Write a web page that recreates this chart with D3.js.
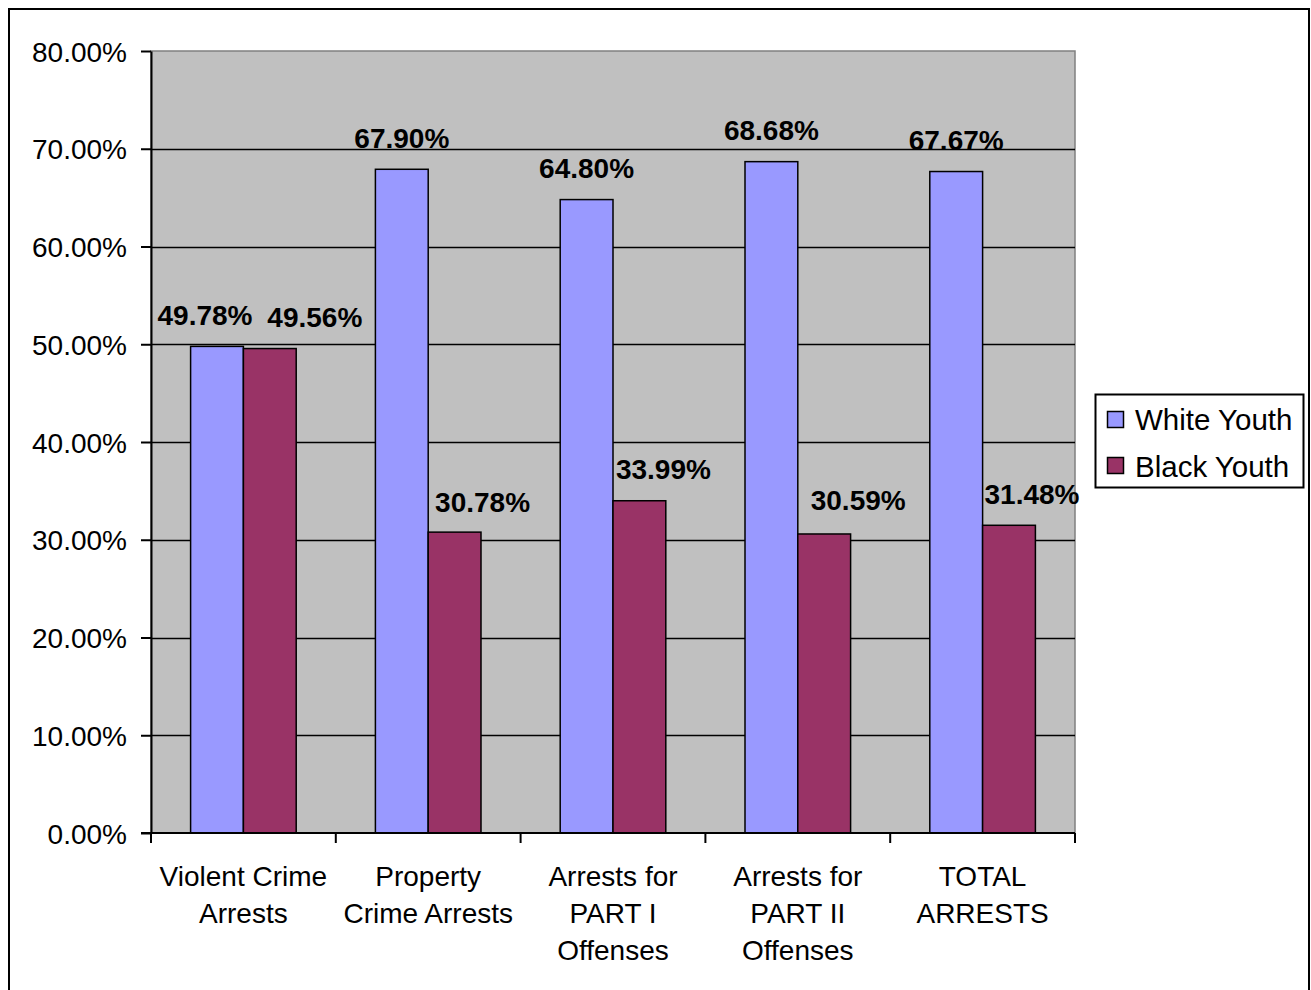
<!DOCTYPE html>
<html>
<head>
<meta charset="utf-8">
<script src="https://cdn.jsdelivr.net/npm/d3@7"></script>
<style>
  html, body { margin: 0; padding: 0; background: #fff; }
  svg { display: block; font-family: "Liberation Sans", Arial, sans-serif; }
</style>
</head>
<body>
<svg id="chart" width="1311" height="990"></svg>
<script>
// Arrest shares by race, youth arrests
const categories = [
  "Violent Crime\nArrests",
  "Property\nCrime Arrests",
  "Arrests for\nPART I\nOffenses",
  "Arrests for\nPART II\nOffenses",
  "TOTAL\nARRESTS"
];
const seriesNames = ["White Youth", "Black Youth"];
const whiteYouth = [49.78, 67.90, 64.80, 68.68, 67.67];
const blackYouth = [49.56, 30.78, 33.99, 30.59, 31.48];
const yTicks = [0, 10, 20, 30, 40, 50, 60, 70, 80];

// layout
const plot = { left: 151, top: 51, right: 1075, bottom: 833 };
const colors = ["#9999FF", "#993366"];
const fontSize = 28;
const labelFontSize = 28;
const legendFontSize = 29.5;
// hand-placed value label nudges (px) so neighbouring labels do not collide
const labelNudge = [
  [[-12, 0], [45, 0]],
  [[0, 0], [28, 1]],
  [[0, 0], [24, 0]],
  [[0, 0], [34, -2]],
  [[0, 0], [23, 0]]
];

const svg = d3.select("#chart");

// outer chart frame
svg.append("rect")
  .attr("x", 9).attr("y", 9)
  .attr("width", 1300).attr("height", 1000)
  .attr("fill", "#fff").attr("stroke", "#000").attr("stroke-width", 2);

const x = d3.scaleBand().domain(categories).range([plot.left, plot.right]).paddingInner(0).paddingOuter(0);
const xs = d3.scaleBand().domain(seriesNames).range([0, x.bandwidth()]).paddingInner(0).paddingOuter(0.75);
const y = d3.scaleLinear().domain([0, 80]).range([plot.bottom, plot.top]);

// plot area background
svg.append("rect")
  .attr("x", plot.left).attr("y", plot.top)
  .attr("width", plot.right - plot.left).attr("height", plot.bottom - plot.top)
  .attr("fill", "#C0C0C0").attr("stroke", "#808080").attr("stroke-width", 1.5);

// gridlines
svg.append("g").selectAll("line")
  .data(yTicks.filter(t => t > 0 && t < 80))
  .join("line")
  .attr("x1", plot.left).attr("x2", plot.right)
  .attr("y1", d => Math.round(y(d)) + 0.5).attr("y2", d => Math.round(y(d)) + 0.5)
  .attr("stroke", "#000").attr("stroke-width", 1.5);

// bars
const seriesData = [whiteYouth, blackYouth];
seriesData.forEach((vals, si) => {
  svg.append("g").selectAll("rect")
    .data(vals)
    .join("rect")
    .attr("x", (d, i) => x(categories[i]) + xs(seriesNames[si]))
    .attr("y", d => y(d))
    .attr("width", xs.bandwidth())
    .attr("height", d => y(0) - y(d))
    .attr("fill", colors[si])
    .attr("stroke", "#000").attr("stroke-width", 1.5);
});

// value labels
seriesData.forEach((vals, si) => {
  svg.append("g").selectAll("text")
    .data(vals)
    .join("text")
    .attr("x", (d, i) => x(categories[i]) + xs(seriesNames[si]) + xs.bandwidth() / 2 + labelNudge[i][si][0])
    .attr("y", (d, i) => y(d) - 21.5 + labelNudge[i][si][1])
    .attr("text-anchor", "middle")
    .attr("font-size", labelFontSize)
    .attr("font-weight", "bold")
    .attr("fill", "#000")
    .text(d => d.toFixed(2) + "%");
});

// y axis
const yAxis = svg.append("g")
  .attr("transform", `translate(${plot.left},0)`)
  .call(d3.axisLeft(y).tickValues(yTicks).tickFormat(d => d.toFixed(2) + "%")
    .tickSize(10).tickSizeOuter(0).tickPadding(14));
yAxis.select(".domain").attr("stroke", "#000").attr("stroke-width", 2);
yAxis.selectAll(".tick line").attr("stroke", "#000").attr("stroke-width", 2);
yAxis.selectAll(".tick text")
  .attr("font-size", fontSize).attr("font-family", "Liberation Sans, Arial, sans-serif")
  .attr("fill", "#000").attr("dy", "0.36em");

// x axis line and boundary ticks
const xg = svg.append("g");
xg.append("line")
  .attr("x1", plot.left - 10).attr("x2", plot.right)
  .attr("y1", plot.bottom).attr("y2", plot.bottom)
  .attr("stroke", "#000").attr("stroke-width", 2);
const edges = categories.map(c => x(c)).concat([x.range()[1]]);
xg.selectAll("line.tk")
  .data(edges)
  .join("line")
  .attr("class", "tk")
  .attr("x1", d => d).attr("x2", d => d)
  .attr("y1", plot.bottom).attr("y2", plot.bottom + 10)
  .attr("stroke", "#000").attr("stroke-width", 2);

// category labels
xg.selectAll("text.cat")
  .data(categories)
  .join("text")
  .attr("class", "cat")
  .attr("text-anchor", "middle")
  .attr("font-size", fontSize)
  .attr("fill", "#000")
  .each(function (d) {
    const t = d3.select(this);
    d.split("\n").forEach((line, k) => {
      t.append("tspan")
        .attr("x", x(d) + x.bandwidth() / 2)
        .attr("y", 886 + k * 37)
        .text(line);
    });
  });

// legend
const lg = svg.append("g");
lg.append("rect")
  .attr("x", 1095.5).attr("y", 394.5).attr("width", 208).attr("height", 93)
  .attr("fill", "#fff").attr("stroke", "#000").attr("stroke-width", 2);
seriesNames.forEach((name, i) => {
  lg.append("rect")
    .attr("x", 1107.5).attr("y", 411.5 + i * 46)
    .attr("width", 16).attr("height", 16)
    .attr("fill", colors[i]).attr("stroke", "#000").attr("stroke-width", 1.5);
  lg.append("text")
    .attr("x", 1135).attr("y", 430 + i * 46.5)
    .attr("font-size", legendFontSize).attr("fill", "#000")
    .text(name);
});
</script>
</body>
</html>
